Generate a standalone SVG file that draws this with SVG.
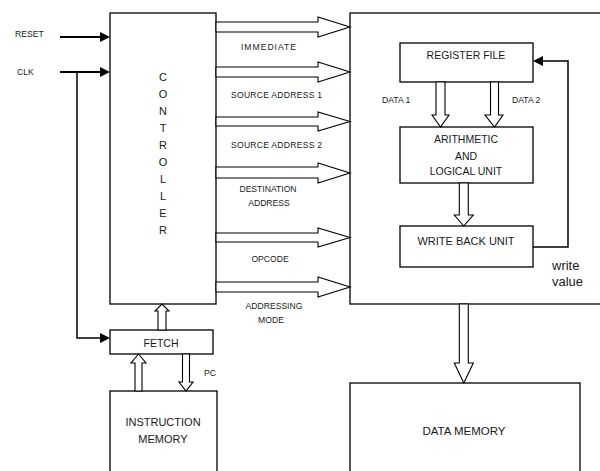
<svg xmlns="http://www.w3.org/2000/svg" width="600" height="471" viewBox="0 0 600 471">
<defs>
<style>
.box{fill:#fff;stroke:#000;stroke-width:1.3}
.hol{fill:#fff;stroke:#000;stroke-width:1.1;stroke-linejoin:miter}
.ln{fill:none;stroke:#000;stroke-width:1.5}
.tk{fill:none;stroke:#000;stroke-width:2.2}
.hd{fill:#000}
text{font-family:"Liberation Sans",Arial,sans-serif;fill:#1a1a1a}
.s{font-size:8.6px}
.m{font-size:10.5px}
.c{text-anchor:middle}
</style>
</defs>
<rect width="600" height="471" fill="#fff"/>

<g id="controller">
<rect class="box" x="110" y="13" width="106" height="291"/>
<g class="c" font-size="11">
<text x="163" y="81">C</text>
<text x="163" y="98">O</text>
<text x="163" y="115">N</text>
<text x="163" y="132">T</text>
<text x="163" y="149">R</text>
<text x="163" y="166">O</text>
<text x="163" y="183">L</text>
<text x="163" y="200">L</text>
<text x="163" y="217">E</text>
<text x="163" y="234">R</text>
</g>
</g>

<g id="datapath">
<rect class="box" x="350" y="13" width="260" height="291"/>
</g>

<g id="register-file">
<rect class="box" x="400" y="43" width="133" height="39"/>
<text class="m c" x="466" y="59">REGISTER FILE</text>
</g>

<g id="alu">
<rect class="box" x="400" y="127" width="133" height="56"/>
<text class="m c" x="466" y="143">ARITHMETIC</text>
<text class="m c" x="466" y="160">AND</text>
<text class="m c" x="466" y="175">LOGICAL UNIT</text>
</g>

<g id="write-back">
<rect class="box" x="400" y="226" width="133" height="41"/>
<text class="c" font-size="11" x="466" y="245">WRITE BACK UNIT</text>
</g>

<g id="fetch">
<rect class="box" x="110" y="330" width="103" height="24"/>
<text class="c" font-size="10.5" x="161" y="347">FETCH</text>
</g>

<g id="instruction-memory">
<rect class="box" x="110" y="391" width="107" height="90"/>
<text class="c" font-size="11" x="163" y="426">INSTRUCTION</text>
<text class="c" font-size="11" x="163" y="443">MEMORY</text>
</g>

<g id="data-memory">
<rect class="box" x="350" y="383" width="230" height="98"/>
<text class="c" font-size="11.5" x="464" y="435">DATA MEMORY</text>
</g>

<g id="connectors">
<line class="tk" x1="60" y1="37" x2="101" y2="37"/>
<path class="hd" d="M100,32 L110,37 L100,42 Z"/>
<line class="tk" x1="60" y1="72" x2="101" y2="72"/>
<path class="hd" d="M100,67 L110,72 L100,77 Z"/>
<polyline class="ln" points="77,72 77,338 101,338"/>
<path class="hd" d="M100,333 L110,338 L100,343 Z"/>

<polygon class="hol" points="216,22 318,22 318,17 350,27 318,37 318,32 216,32"/>
<polygon class="hol" points="216,67 318,67 318,62 350,72 318,82 318,77 216,77"/>
<polygon class="hol" points="216,117 318,117 318,112 350,121.5 318,131 318,126 216,126"/>
<polygon class="hol" points="216,167 318,167 318,163 350,173 318,183 318,178 216,178"/>
<polygon class="hol" points="216,233 318,233 318,228 350,237.5 318,247 318,242 216,242"/>
<polygon class="hol" points="216,282 318,282 318,277 350,287 318,297 318,292 216,292"/>

<polygon class="hol" points="158,330 158,311 155,311 162,304 169,311 166,311 166,330"/>
<polygon class="hol" points="182.5,354 182.5,382 179,382 186,391 193,382 189.5,382 189.5,354"/>
<polygon class="hol" points="135,391 135,363 131,363 138.5,354 146,363 142,363 142,391"/>

<polygon class="hol" points="436,82 436,115 432,115 440.5,127 449,115 445,115 445,82"/>
<polygon class="hol" points="490.5,82 490.5,115 485,115 494.5,127 503,115 498.5,115 498.5,82"/>
<polygon class="hol" points="459.3,183 459.3,215 454.3,215 463.8,226 473.3,215 468.3,215 468.3,183"/>
<polyline class="ln" points="533,247 568,247 568,61 543,61"/>
<path class="hd" d="M543,56 L533,61 L543,66 Z"/>
<polygon class="hol" points="459.3,304 459.3,363 454.3,363 463.8,383 473.3,363 468.3,363 468.3,304"/>
</g>

<g id="labels">
<text class="s" x="15" y="37">RESET</text>
<text class="s" x="17" y="75">CLK</text>
<text class="s" x="241" y="50" textLength="55">IMMEDIATE</text>
<text class="s" x="231" y="98" textLength="91">SOURCE ADDRESS 1</text>
<text class="s" x="231" y="148" textLength="91">SOURCE ADDRESS 2</text>
<text class="s c" x="268" y="192">DESTINATION</text>
<text class="s c" x="269" y="206">ADDRESS</text>
<text class="s c" x="270" y="262">OPCODE</text>
<text class="s c" x="274" y="309">ADDRESSING</text>
<text class="s c" x="271" y="323">MODE</text>
<text class="s" x="204" y="376">PC</text>
<text class="s" x="382" y="103">DATA 1</text>
<text class="s" x="512" y="103">DATA 2</text>
<text font-size="13" x="552" y="270">write</text>
<text font-size="13" x="552" y="286">value</text>
</g>
</svg>
